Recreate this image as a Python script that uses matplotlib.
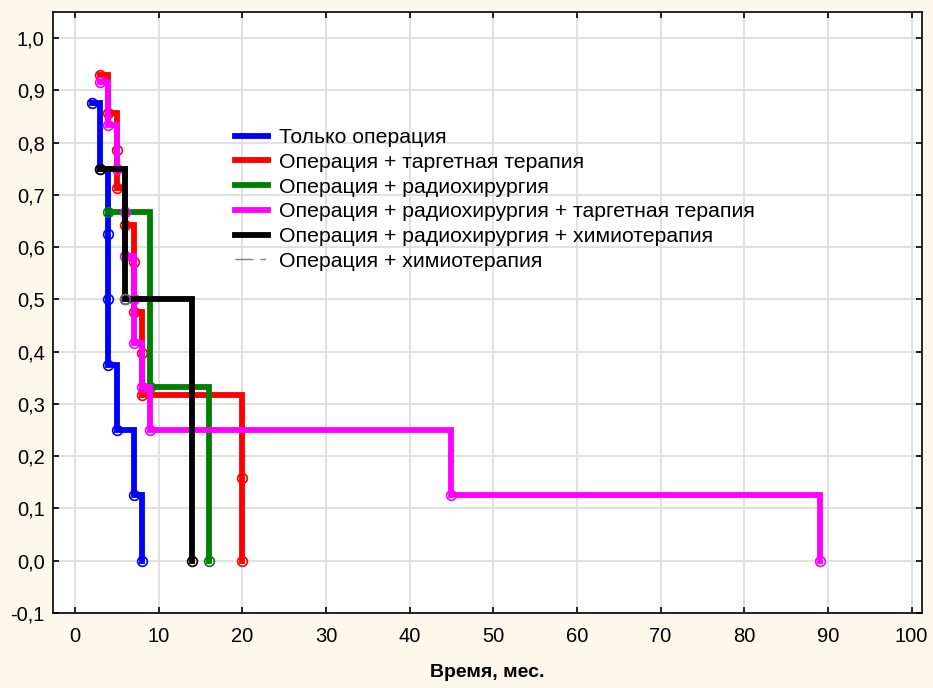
import numpy as np
import matplotlib
matplotlib.use("Agg")
import matplotlib.pyplot as plt
from matplotlib.ticker import FuncFormatter

# Kaplan-Meier data (time in months, survival)
t_only = [2, 3, 4, 4, 4, 5, 7, 8]
s_only = [0.875, 0.75, 0.625, 0.5, 0.375, 0.25, 0.125, 0.0]

t_target = [3, 4, 5, 5, 6, 7, 7, 8, 8, 20, 20]
s_target = [0.929, 0.857, 0.786, 0.714, 0.643, 0.571, 0.476, 0.397, 0.317, 0.159, 0.0]

t_radio = [4, 9, 16]
s_radio = [0.667, 0.333, 0.0]

t_radio_target = [3, 4, 5, 6, 6, 7, 7, 8, 9, 45, 89]
s_radio_target = [0.917, 0.833, 0.75, 0.667, 0.583, 0.5, 0.417, 0.333, 0.25, 0.125, 0.0]

t_radio_chemo = [3, 6, 14]
s_radio_chemo = [0.75, 0.5, 0.0]

t_chemo = [6]
s_chemo = [0.5]

labels = ["Только операция",
          "Операция + таргетная терапия",
          "Операция + радиохирургия",
          "Операция + радиохирургия + таргетная терапия",
          "Операция + радиохирургия + химиотерапия",
          "Операция + химиотерапия"]

xticks = np.arange(0, 101, 10)
yticks = np.round(np.arange(-0.1, 1.01, 0.1), 1)

plt.rcParams.update({'font.family': ['Liberation Sans', 'DejaVu Sans']})
plt.rcParams.update({'axes.linewidth': 1.2})
plt.rcParams.update({'lines.scale_dashes': False})

fig = plt.figure(figsize=(9.33, 6.88), dpi=100)
fig.patch.set_facecolor('#fdf8ec')
ax = fig.add_axes([0.0568, 0.109, 0.931, 0.8735])
ax.set_facecolor('white')

series = [(t_only, s_only, '#0000ff'),
          (t_target, s_target, '#ff0000'),
          (t_radio, s_radio, '#008000'),
          (t_radio_target, s_radio_target, '#ff00ff'),
          (t_radio_chemo, s_radio_chemo, '#000000')]

for (t, s, c), lab in zip(series, labels):
    ax.plot(t, s, drawstyle='steps-post', color=c, lw=4.2, label=lab,
            solid_joinstyle='miter', zorder=3)
    ax.plot(t, s, ls='none', marker='o', ms=7, mfc='none', mec=c, mew=1.2, zorder=3)

# single group with one point, thin dashed line in legend
ax.plot(t_chemo, s_chemo, color='#808080', lw=1.0, ls=(0, (13, 5, 4, 5)), label=labels[5])
ax.plot(t_chemo, s_chemo, ls='none', marker='o', ms=7, mfc='none', mec='#707070',
        mew=1.2, zorder=4)

ax.set_xlim(-2.63, 101.2)
ax.set_ylim(-0.1, 1.05)
ax.set_xticks(xticks)
ax.set_yticks(yticks)
ax.yaxis.set_major_formatter(FuncFormatter(lambda v, p: ("%.1f" % v).replace('.', ',')))
ax.grid(True, color='#dcdcdc', lw=1.2, zorder=0)
ax.set_axisbelow(True)
ax.tick_params(direction='in', length=4, width=1.2, top=True, right=True)
ax.tick_params(axis='y', labelsize=14.5, pad=6)
ax.tick_params(axis='x', labelsize=14.5, pad=10)

ax.set_xlabel("Время, мес.", fontsize=14, fontweight='bold', labelpad=13)

leg = ax.legend(loc='upper left', bbox_to_anchor=(0.2094, 0.807), frameon=False,
                fontsize=15.3, handlelength=1.55, handletextpad=0.53,
                labelspacing=0.27, borderpad=0, borderaxespad=0)

fig.savefig('out.png', dpi=100, facecolor=fig.get_facecolor())
plt.close(fig)
